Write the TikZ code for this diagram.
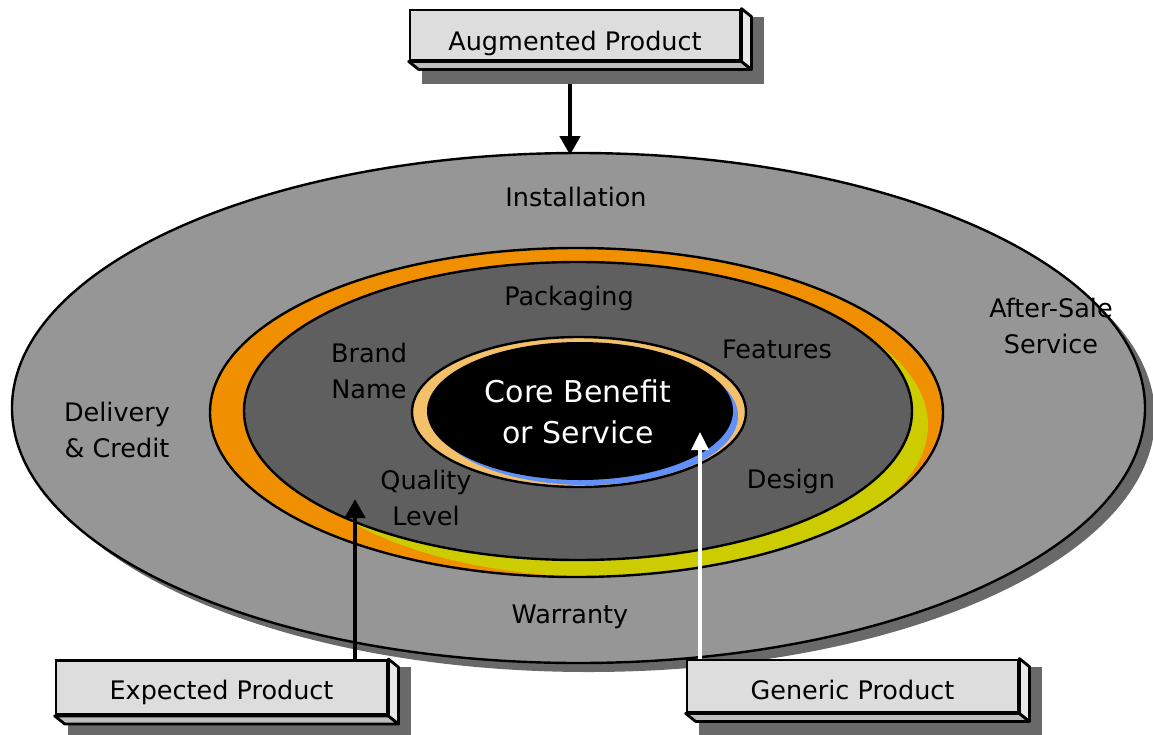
\documentclass[tikz,border=0pt]{standalone}
\usepackage{fontspec}
\setmainfont{DejaVu Sans}
\usetikzlibrary{arrows.meta}
\definecolor{outerg}{HTML}{969696}
\definecolor{innerg}{HTML}{5F5F5F}
\definecolor{shadg}{HTML}{696969}
\definecolor{orng}{HTML}{F09000}
\definecolor{yel}{HTML}{CCCC00}
\definecolor{lorng}{HTML}{F5C06A}
\definecolor{blu}{HTML}{6090F8}
\definecolor{facec}{HTML}{DDDDDD}
\definecolor{bottomc}{HTML}{BDBDBD}
\definecolor{sidec}{HTML}{E8E8E8}
\pgfdeclarelayer{boxback}
\pgfdeclarelayer{boxfront}
\pgfsetlayers{main,boxback,boxfront}
\begin{document}
\begin{tikzpicture}[x=1pt,y=-1pt,
  lbl/.style={font=\fontsize{25.5}{36}\selectfont, align=center, text=black, inner sep=0pt},
  corelbl/.style={font=\fontsize{30}{41}\selectfont, align=center, text=white, inner sep=0pt},
  pbox/.style={draw=black, line width=2.8pt, fill=facec, font=\fontsize{25.5}{30}\selectfont, inner sep=0pt, text depth=0pt},
  bface/.style={fill=bottomc, draw=black, line width=2.8pt, line join=round},
  sface/.style={fill=sidec, draw=black, line width=2.8pt, line join=round},
  ring/.style={draw=black, line width=2.4pt},
  arr/.style={line width=4.5pt, -{Triangle[width=20pt,length=19pt]}},
  warr/.style={draw=white, line width=3.5pt, -{Triangle[width=17pt,length=18pt]}}]
\useasboundingbox (0,0) rectangle (1153,734);

% outer ellipse with shadow
\fill[shadg] (588.5,417) ellipse [x radius=566.5pt, y radius=255pt];
\filldraw[fill=outerg, ring] (578.5,408) ellipse [x radius=566.5pt, y radius=255pt];

% orange ring with yellow crescent
\fill[orng] (576.5,412.5) ellipse [x radius=366.5pt, y radius=164.5pt];
\begin{scope}
  \clip (576.5,412.5) ellipse [x radius=366.5pt, y radius=164.5pt];
  \fill[yel] (602,425) ellipse [x radius=326pt, y radius=152pt];
\end{scope}
\draw[ring] (576.5,412.5) ellipse [x radius=366.5pt, y radius=164.5pt];
\filldraw[fill=innerg, ring] (578,411) ellipse [x radius=334pt, y radius=149pt];

% core
\fill[lorng] (579,412) ellipse [x radius=167pt, y radius=75pt];
\begin{scope}
  \clip (579,412) ellipse [x radius=167pt, y radius=75pt];
  \fill[blu] (586,416) ellipse [x radius=152pt, y radius=69pt];
\end{scope}
\fill[black] (580,411) ellipse [x radius=153pt, y radius=69pt];
\draw[ring] (579,412) ellipse [x radius=167pt, y radius=75pt];

% labels
\node[lbl] (inst) at (576,197) {Installation};
\node[lbl] (pack) at (569,298) {Packaging};
\node[lbl] (brand) at (369,371) {Brand\\Name};
\node[lbl] (feat) at (777,349) {Features};
\node[lbl] (deliv) at (117,430) {Delivery\\\& Credit};
\node[lbl] (after) at (1051,326) {After-Sale\\Service};
\node[lbl] (qual) at (426,498) {Quality\\Level};
\node[lbl] (design) at (791,481) {Design};
\node[lbl] (warr) at (570,617) {Warranty};
\node[corelbl] (core) at (578,412) {Core Benefit\\or Service};

% product boxes
\begin{pgfonlayer}{boxfront}
\node[pbox, text height=30pt, minimum width=330pt, minimum height=50pt] (aug) at (575,35) {Augmented Product};
\node[pbox, text height=23pt, minimum width=331pt, minimum height=54pt] (exp) at (221.5,687.5) {Expected Product};
\node[pbox, text height=27pt, minimum width=331pt, minimum height=52pt] (gen) at (852.5,686) {Generic Product};
\end{pgfonlayer}
\begin{pgfonlayer}{boxback}
\foreach \b in {aug,exp,gen}{
  \fill[shadg] ([shift={(13,8)}]\b.north west) rectangle ([shift={(23,23)}]\b.south east);
  \filldraw[bface] (\b.south west) -- (\b.south east) -- ([shift={(10,8)}]\b.south east) -- ([shift={(10,8)}]\b.south west) -- cycle;
  \filldraw[sface] (\b.north east) -- ([shift={(10,8)}]\b.north east) -- ([shift={(10,8)}]\b.south east) -- (\b.south east) -- cycle;
}
\end{pgfonlayer}

% arrows
\coordinate (augtip) at (570,155);
\coordinate (exptip) at (355,499);
\coordinate (gentip) at (700,432);
\draw[arr] (aug.south -| augtip) -- (augtip);
\draw[arr] (exp.north -| exptip) -- (exptip);
\draw[warr] (gen.north -| gentip) -- (gentip);
\end{tikzpicture}
\end{document}
